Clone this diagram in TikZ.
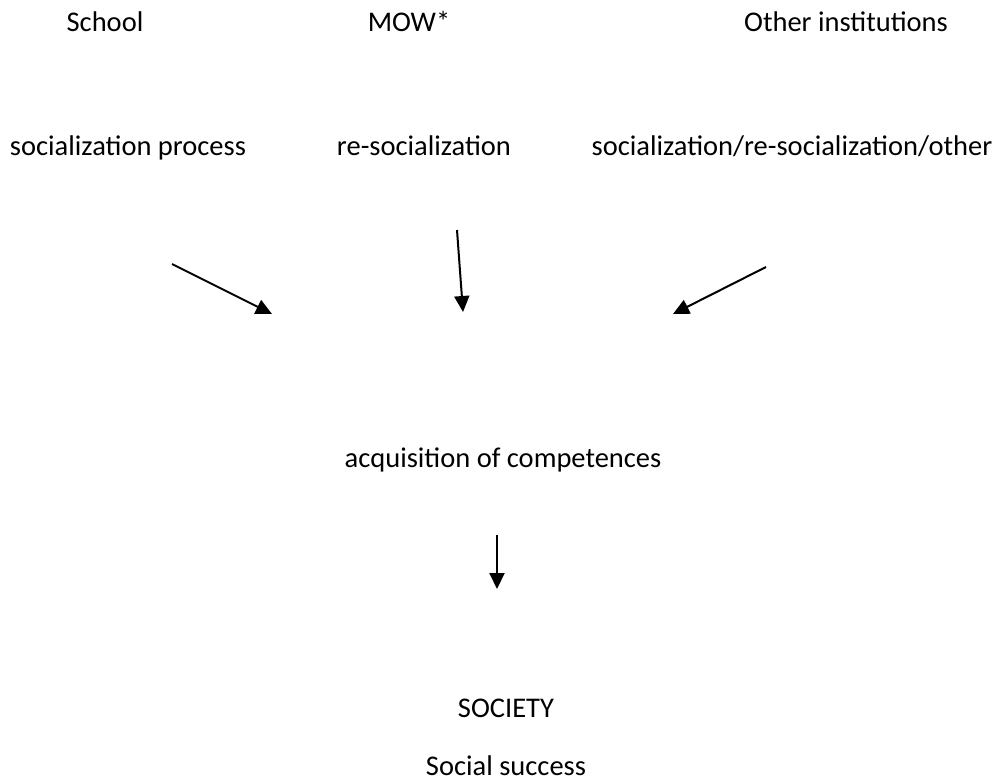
\documentclass[tikz,border=0pt]{standalone}
\usepackage{fontspec}
\setmainfont{Carlito}
\usetikzlibrary{arrows.meta}

\tikzset{
	lbl/.style={anchor=base, inner sep=0pt, font=\fontsize{28.5}{34}\selectfont},
	arr/.style={-{Triangle[length=16pt,width=15pt]}, line width=2pt}
}

\begin{document}
\begin{tikzpicture}[x=1pt,y=-1pt]
		\useasboundingbox (0,0) rectangle (1006,782);
		
		\node[lbl] (sch) at (105,31) {School};
		\node[lbl] (mow) at (409,31) {MOW*};
		\node[lbl] (oth) at (846,31) {Other institutions};
		
		\node[lbl] (soc) at (128,155) {socialization process};
		\node[lbl] (res) at (424,155) {re-socialization};
		\node[lbl] (mix) at (792,155) {socialization/re-socialization/other};
		
		\coordinate (a1) at (172,264); \coordinate (b1) at (272,314);
		\coordinate (a2) at (457,230); \coordinate (b2) at (463,312);
		\coordinate (a3) at (766,267); \coordinate (b3) at (673,314);
		
		\draw[arr] (a1)--(b1);
		\draw[arr] (a2)--(b2);
		\draw[arr] (a3)--(b3);
		
		\node[lbl] (acq) at (503,467) {acquisition of competences};
		
		\coordinate (a4) at (497,535); \coordinate (b4) at (497,589);
		\draw[arr] (a4)--(b4);
		
		\node[lbl] (sty) at (506,717) {SOCIETY};
		\node[lbl] (suc) at (506,775) {Social success};
	\end{tikzpicture}
\end{document}
